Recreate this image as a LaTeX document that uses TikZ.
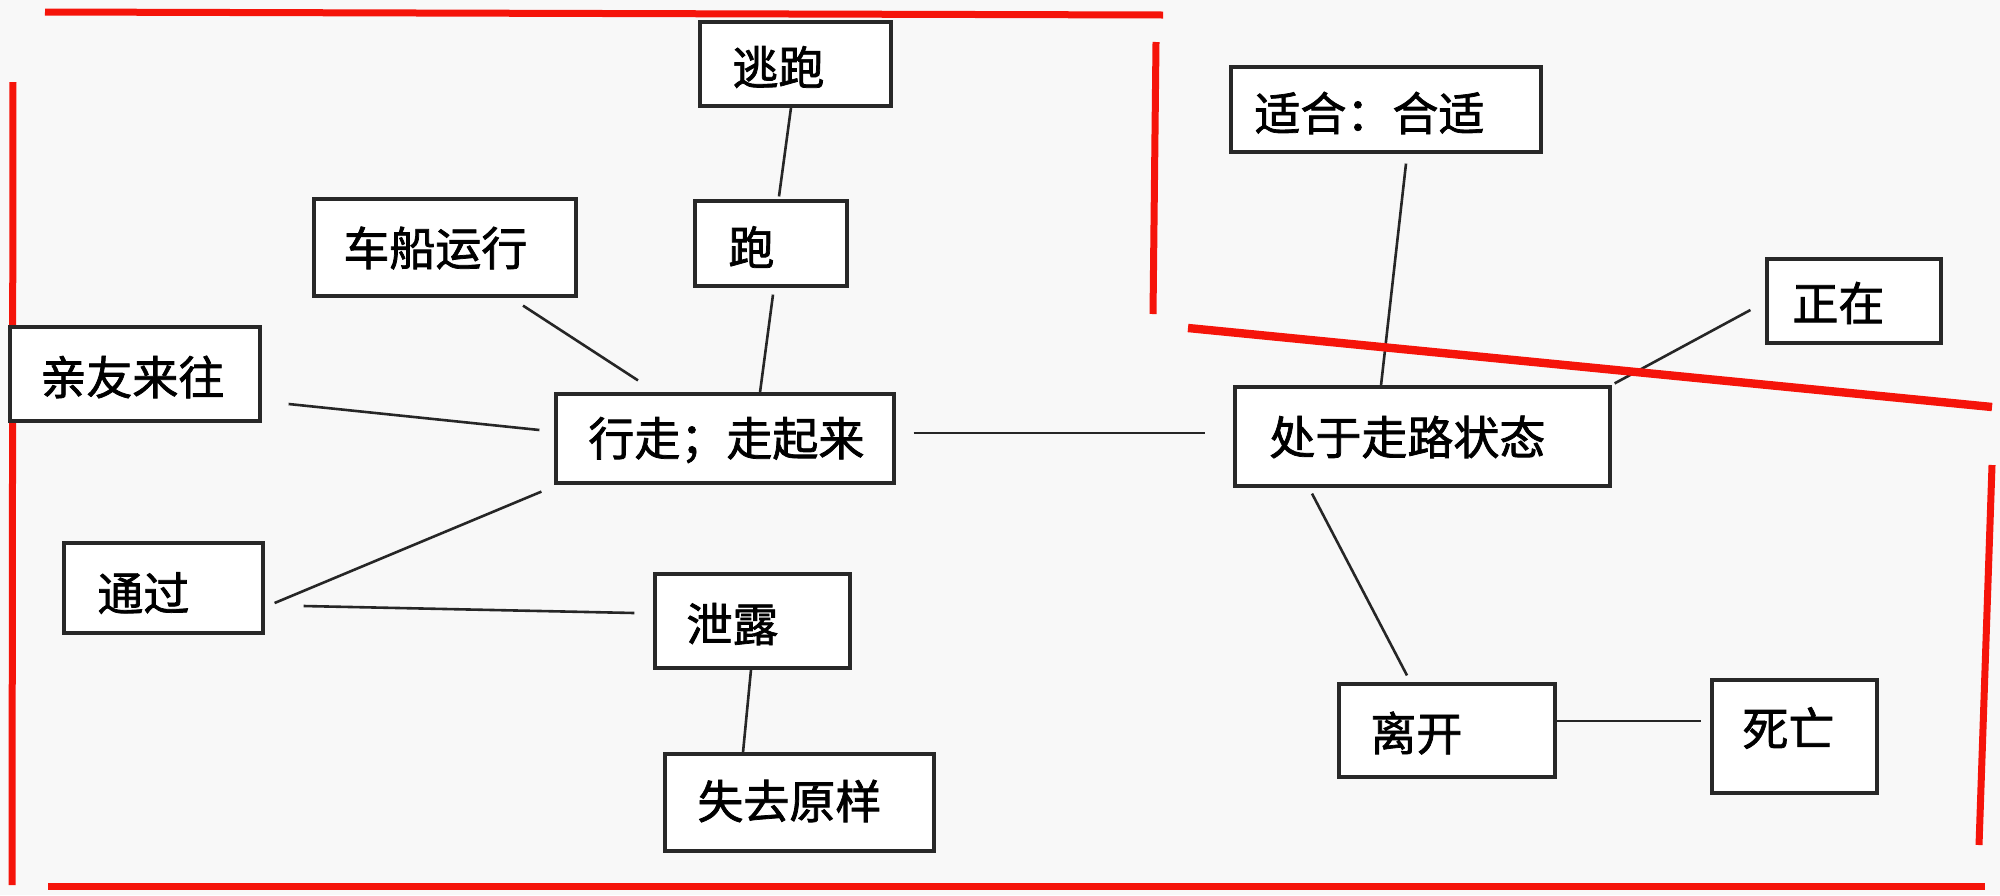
\documentclass[tikz,border=0pt]{standalone}
\usepackage{fontspec}
\newfontfamily\cjk[AutoFakeBold=1.6]{Noto Sans CJK SC}
\definecolor{bgc}{RGB}{248,248,248}
\definecolor{redline}{RGB}{245,20,10}
\definecolor{boxline}{RGB}{40,40,40}
\begin{document}
\begin{tikzpicture}[x=0.5pt,y=-0.5pt,
  box/.style={draw=boxline,line width=1.6pt,fill=white,rectangle,inner sep=0pt},
  txt/.style={anchor=west,inner sep=0pt,font=\cjk\bfseries\fontsize{23}{27}\selectfont},
  conn/.style={draw=black!85,line width=1.3pt},
  redl/.style={draw=redline,line width=3.5pt}]
\fill[bgc] (0,0) rectangle (2000,895);
\useasboundingbox (0,0) rectangle (2000,895);
% red frame lines
\draw[redl] (45,12) -- (1163,15);
\draw[redl] (13,82) -- (12,885);
\draw[redl] (1156,42) -- (1153,314);
\draw[redl] (48,886) -- (1985,886);
\draw[redl] (1992,465) -- (1979,845);
% boxes
\node[box,minimum width=95.5pt,minimum height=42pt] (taopao) at (795.5,64) {};
\node[box,minimum width=131pt,minimum height=48.5pt] (chechuan) at (445,247.5) {};
\node[box,minimum width=76pt,minimum height=42.5pt] (pao) at (771,243.5) {};
\node[box,minimum width=125pt,minimum height=47pt] (qinyou) at (135,374) {};
\node[box,minimum width=169pt,minimum height=44.5pt] (xingzou) at (725,438.5) {};
\node[box,minimum width=155pt,minimum height=42.5pt] (shihe) at (1386,109.5) {};
\node[box,minimum width=87pt,minimum height=42pt] (zhengzai) at (1854,301) {};
\node[box,minimum width=187.5pt,minimum height=49.5pt] (chuyu) at (1422.5,436.5) {};
\node[box,minimum width=99.5pt,minimum height=45pt] (tongguo) at (163.5,588) {};
\node[box,minimum width=97.5pt,minimum height=47pt] (xielu) at (752.5,621) {};
\node[box,minimum width=134.5pt,minimum height=48.5pt] (shiqu) at (799.5,802.5) {};
\node[box,minimum width=108pt,minimum height=46.5pt] (likai) at (1447,730.5) {};
\node[box,minimum width=82.5pt,minimum height=56.5pt] (siwang) at (1794.5,736.5) {};
% texts
\node[txt] (t1) at (732,67) {逃跑};
\node[txt] (t2) at (343,248) {车船运行};
\node[txt] (t3) at (728,247) {跑};
\node[txt] (t4) at (40,377) {亲友来往};
\node[txt] (t5) at (588,440) {行走；走起来};
\node[txt] (t6) at (1254,113) {适合：合适};
\node[txt] (t7) at (1792,303) {正在};
\node[txt] (t8) at (1269,437) {处于走路状态};
\node[txt] (t9) at (97,593) {通过};
\node[txt] (t10) at (686,624) {泄露};
\node[txt] (t11) at (697,801) {失去原样};
\node[txt] (t12) at (1370,733) {离开};
\node[txt] (t13) at (1742,728) {死亡};
% connectors
\draw[conn] ([shift={(-4.5,0)}]taopao.south) -- ([shift={(8,-3)}]pao.north);
\draw[conn] ([shift={(78,8)}]chechuan.south) -- ([shift={(-87,-12)}]xingzou.north);
\draw[conn] ([shift={(2,7)}]pao.south) -- ([shift={(35,0)}]xingzou.north);
\draw[conn] ([shift={(27,30)}]qinyou.east) -- ([shift={(-15,-8.5)}]xingzou.west);
\draw[conn] ([shift={(18,-5.5)}]xingzou.east) -- ([shift={(-28,-3.5)}]chuyu.west);
\draw[conn] ([shift={(-13,7)}]xingzou.south west) -- ([shift={(10,15)}]tongguo.east);
\draw[conn] ([shift={(39,18)}]tongguo.east) -- ([shift={(-19,-8)}]xielu.west);
\draw[conn] ([shift={(-1.5,0)}]xielu.south) -- ([shift={(-56.5,0)}]shiqu.north);
\draw[conn] ([shift={(20,10)}]shihe.south) -- ([shift={(-41.5,0)}]chuyu.north);
\draw[conn] ([shift={(-15,9)}]zhengzai.west) -- ([shift={(3,-2)}]chuyu.north east);
\draw[conn] ([shift={(-110.5,6)}]chuyu.south) -- ([shift={(-40,-7)}]likai.north);
\draw[conn] ([shift={(0,-9.5)}]likai.east) -- ([shift={(-9,-15.5)}]siwang.west);
% red diagonal (drawn over)
\draw[redl,line width=4.2pt] (1188,328) -- (1992,407);
\end{tikzpicture}
\end{document}
